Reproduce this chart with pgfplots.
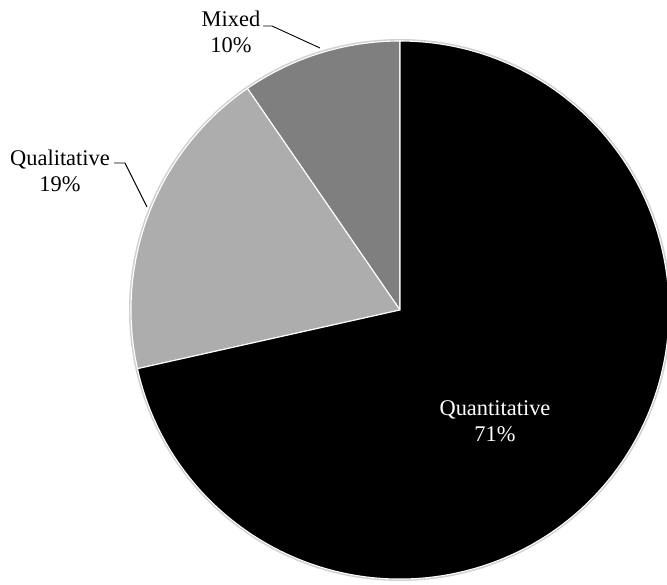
\documentclass[border=0pt]{standalone}
\usepackage{pgfplots}
\usepackage{pgfplotstable}
\pgfplotsset{compat=1.18}
\usepackage{fontspec}
\setmainfont{Liberation Serif}
\definecolor{mixgray}{HTML}{7F7F7F}
\definecolor{qualgray}{HTML}{ADADAD}
\pgfplotstableread{
label value
Mixed 9.6
Qualitative 18.9
Quantitative 71.5
}\piedata
\pgfplotstablegetelem{0}{value}\of\piedata\let\vA\pgfplotsretval
\pgfplotstablegetelem{1}{value}\of\piedata\let\vB\pgfplotsretval
\pgfplotstablegetelem{2}{value}\of\piedata\let\vC\pgfplotsretval
\pgfmathsetmacro\aA{90}
\pgfmathsetmacro\aB{\aA+3.6*\vA}
\pgfmathsetmacro\aC{\aB+3.6*\vB}
\pgfmathsetmacro\aD{\aC+3.6*\vC}
\begin{document}
\begin{tikzpicture}
\useasboundingbox (0,0) rectangle (667bp,585bp);
\clip (0,0) rectangle (667bp,585bp);
\begin{axis}[x=1bp, y=1bp, xmin=0, xmax=667, ymin=0, ymax=585,
  hide axis, clip=false, scale only axis]
\draw[black!18, line width=2pt] (axis cs:400,275) circle[radius=270bp];
\fill[mixgray, draw=white, line width=1.1pt] (axis cs:400,275) -- ++(\aA:269bp) arc[start angle=\aA, end angle=\aB, radius=269bp] -- cycle;
\fill[qualgray, draw=white, line width=1.1pt] (axis cs:400,275) -- ++(\aB:269bp) arc[start angle=\aB, end angle=\aC, radius=269bp] -- cycle;
\fill[black, draw=white, line width=1.1pt] (axis cs:400,275) -- ++(\aC:269bp) arc[start angle=\aC, end angle=\aD, radius=269bp] -- cycle;
\node[align=center, font=\fontsize{22.5}{26}\selectfont, inner sep=0pt] at (axis cs:231,553) {Mixed\\10\%};
\node[align=center, font=\fontsize{22.5}{26}\selectfont, inner sep=0pt] at (axis cs:60,414) {Qualitative\\19\%};
\node[align=center, font=\fontsize{22.5}{26}\selectfont, inner sep=0pt, text=white] at (axis cs:495,164) {Quantitative\\71\%};
\draw[black, line width=0.9pt] (axis cs:263,559) -- (axis cs:272,559) -- (axis cs:320,537);
\draw[black, line width=0.9pt] (axis cs:114,422) -- (axis cs:125,422) -- (axis cs:147,378);
\end{axis}
\end{tikzpicture}
\end{document}
